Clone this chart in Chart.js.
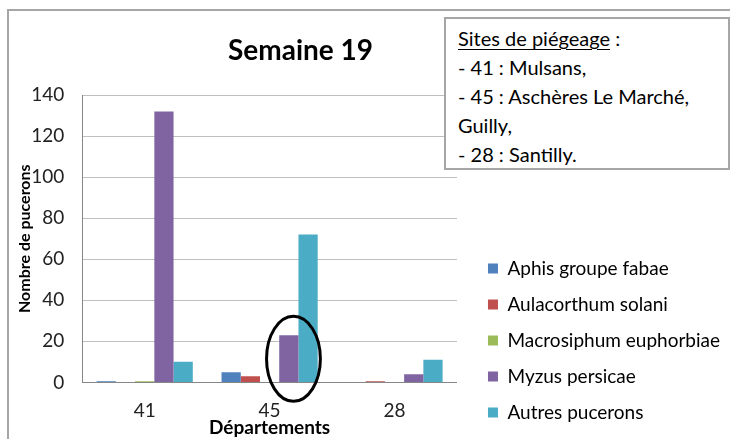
<!DOCTYPE html>
<html>
<head>
<meta charset="utf-8">
<script src="https://cdn.jsdelivr.net/npm/chart.js@4/dist/chart.umd.min.js"></script>
<style>
  body { margin: 0; background: #fff; }
  #wrap { position: relative; width: 730px; height: 439px; overflow: hidden; }
  #frame { position: absolute; left: 7px; top: 9px; width: 800px; height: 500px;
           border-left: 2px solid #a6a6a6; border-top: 2px solid #a6a6a6; }
  #note { position: absolute; left: 444px; top: 17px; width: 266px; height: 140px;
          border: 2px solid #a6a6a6; background: #fff; padding: 5px 4px 4px 12px;
          font-family: Lato, sans-serif; font-size: 20px; line-height: 29px; color: #000; }
  #note u { text-decoration-thickness: 1px; text-underline-offset: 3px; }
  canvas { position: absolute; left: 0; top: 0; }
</style>
</head>
<body>
<div id="wrap">
  <div id="frame"></div>
  <canvas id="chart" width="730" height="439"></canvas>
  <div id="note">
    <u>Sites de piégeage</u> :<br>
    - 41 : Mulsans,<br>
    - 45 : Aschères Le Marché,<br>
    Guilly,<br>
    - 28 : Santilly.
  </div>
</div>
<script>
"use strict";

const departements = ["41", "45", "28"];
const aphisFabae = [0.5, 5, 0];
const aulacorthumSolani = [0, 3, 0.5];
const macrosiphumEuphorbiae = [0.5, 0, 0];
const myzusPersicae = [132, 23, 4];
const autresPucerons = [10, 72, 11];
const yTicks = [0, 20, 40, 60, 80, 100, 120, 140];

const font = "Lato";

// blank box between the plot and the legend
const gapBox = {
  id: "gapBox",
  beforeInit(chart) {
    Chart.layouts.addBox(chart, {
      position: "right",
      weight: 500,
      fullSize: false,
      options: {},
      width: 0,
      height: 0,
      isHorizontal() { return false; },
      update(maxWidth, maxHeight) {
        this.width = 14;
        this.height = maxHeight;
      },
      draw() {}
    });
  }
};

// title drawn by hand, it is not centred in the original
const titlePlugin = {
  id: "titlePlugin",
  afterDraw(chart) {
    const ctx = chart.ctx;
    ctx.save();
    ctx.font = "bold 28px " + font;
    ctx.fillStyle = "#000";
    ctx.textAlign = "left";
    ctx.textBaseline = "alphabetic";
    ctx.fillText("Semaine 19", 228, 60);
    ctx.restore();
  }
};

// black ellipse round the Myzus / Autres bars of 45
const ellipse = {
  id: "ellipse",
  afterDatasetsDraw(chart) {
    const m = chart.getDatasetMeta(3).data[1];
    const a = chart.getDatasetMeta(4).data[1];
    const y0 = chart.scales.y.getPixelForValue(0);
    const cx = (m.x + a.x) / 2 - 5;
    const cy = (y0 + m.y) / 2;
    const ctx = chart.ctx;
    ctx.save();
    ctx.beginPath();
    ctx.ellipse(cx, cy, m.width * 1.4, (y0 - m.y) * 0.9, 0, 0, Math.PI * 2);
    ctx.lineWidth = 3;
    ctx.strokeStyle = "#000";
    ctx.stroke();
    ctx.restore();
  }
};

const ctx = document.getElementById("chart");
const myChart = new Chart(ctx, {
  type: "bar",
  data: {
    labels: departements,
    datasets: [
      { label: "Aphis groupe fabae", data: aphisFabae, backgroundColor: "#4f81bd" },
      { label: "Aulacorthum solani", data: aulacorthumSolani, backgroundColor: "#c0504d" },
      { label: "Macrosiphum euphorbiae", data: macrosiphumEuphorbiae, backgroundColor: "#9bbb59" },
      { label: "Myzus persicae", data: myzusPersicae, backgroundColor: "#8064a2" },
      { label: "Autres pucerons", data: autresPucerons, backgroundColor: "#4bacc6" }
    ]
  },
  options: {
    responsive: false,
    animation: false,
    categoryPercentage: 0.77,
    barPercentage: 1,
    layout: { padding: { left: 15, top: 95, right: 0, bottom: 0 } },
    plugins: {
      legend: {
        position: "right",
        align: "end",
        maxWidth: 300,
        labels: {
          boxWidth: 10,
          boxHeight: 10,
          padding: 17,
          color: "#000",
          font: { family: font, size: 19 }
        }
      },
      tooltip: { enabled: false }
    },
    scales: {
      x: {
        grid: { display: false, drawTicks: false },
        border: { color: "#868686" },
        ticks: { color: "#222", padding: 17, font: { family: font, size: 19 } },
        title: {
          display: true,
          text: "Départements",
          color: "#000",
          padding: { top: -23, bottom: 0 },
          font: { family: font, size: 19, weight: "bold" }
        }
      },
      y: {
        min: 0,
        max: 140,
        afterBuildTicks(axis) {
          axis.ticks = yTicks.map(v => ({ value: v }));
        },
        grid: { color: "#bfbfbf", drawTicks: false },
        border: { color: "#868686" },
        ticks: { color: "#222", padding: 18, font: { family: font, size: 19 } },
        title: {
          display: true,
          text: "Nombre de pucerons",
          color: "#000",
          padding: { top: 0, bottom: -21 },
          font: { family: font, size: 16, weight: "bold" }
        }
      }
    }
  },
  plugins: [gapBox, titlePlugin, ellipse]
});
</script>
</body>
</html>
